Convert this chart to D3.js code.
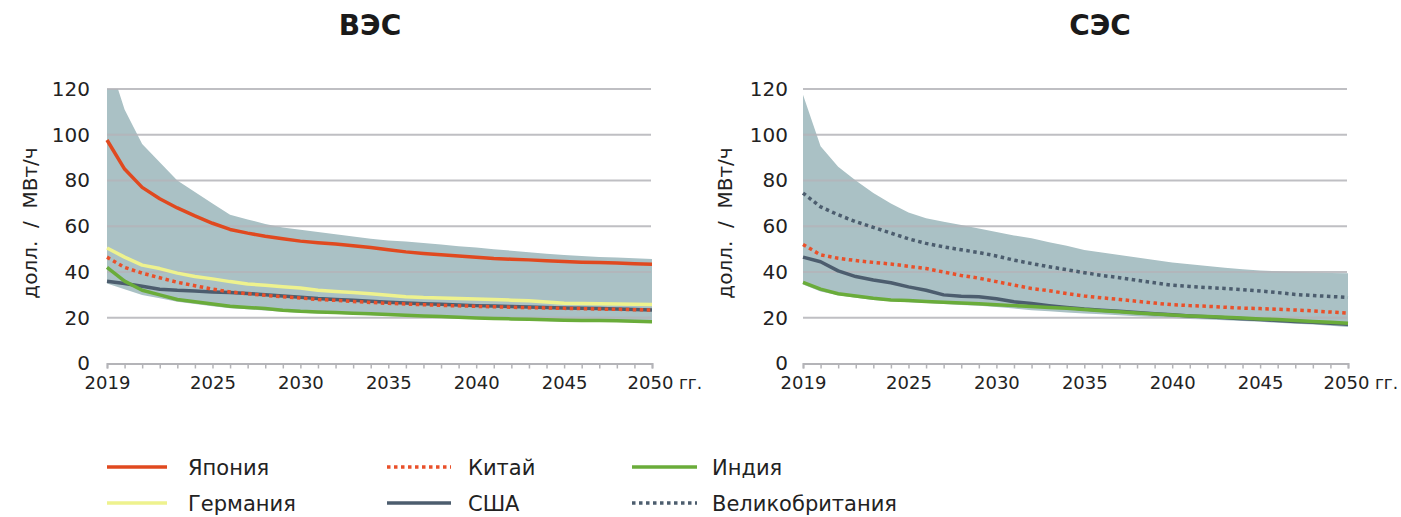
<!DOCTYPE html>
<html lang="ru">
<head>
<meta charset="utf-8">
<title>ВЭС / СЭС</title>
<script src="https://cdn.jsdelivr.net/npm/d3@7"></script>
<style>
  html, body { margin: 0; padding: 0; background: #fff; }
  svg { display: block; font-family: "DejaVu Sans", Verdana, sans-serif; }
</style>
</head>
<body>
<svg id="chart" width="1401" height="517"></svg>
<script>
// Years on the horizontal axis
const years = [2019, 2020, 2021, 2022, 2023, 2024, 2025, 2026, 2027, 2028, 2029, 2030,
  2031, 2032, 2033, 2034, 2035, 2036, 2037, 2038, 2039, 2040, 2041, 2042, 2043, 2044,
  2045, 2046, 2047, 2048, 2049, 2050];
const yearTicks = [2019, 2025, 2030, 2035, 2040, 2045, 2050];
const valueTicks = [0, 20, 40, 60, 80, 100, 120];

// ВЭС (wind), USD / MWh
const windBandHigh = [135, 111, 96, 88, 80, 75, 70, 65, 63, 61, 59.5, 58.5, 57.5, 56.5, 55.5, 54.5,
  53.8, 53.3, 52.7, 52, 51.3, 50.7, 50, 49.3, 48.6, 48, 47.4, 47, 46.6, 46.3, 46, 45.7];
const windBandLow = [35, 32.5, 30, 28.5, 27, 26, 25, 24.2, 23.7, 23.2, 22.6, 22.2, 21.9, 21.7, 21.4, 21.1,
  20.8, 20.5, 20.2, 19.9, 19.6, 19.4, 19.2, 19, 18.8, 18.6, 18.4, 18.3, 18.2, 18.1, 18, 17.9];
const windJapan = [97.7, 85, 77, 72, 68, 64.5, 61.3, 58.6, 57, 55.6, 54.5, 53.5, 52.8, 52.2, 51.5, 50.7,
  49.7, 48.8, 48.1, 47.5, 47, 46.4, 45.9, 45.6, 45.3, 44.9, 44.6, 44.3, 44.1, 43.9, 43.6, 43.4];
const windGermany = [50.5, 46.5, 43, 41.5, 39.5, 38, 37, 35.8, 34.8, 34.2, 33.6, 33, 32, 31.5, 31, 30.5,
  29.8, 29.2, 28.8, 28.6, 28.4, 28.2, 28, 27.7, 27.4, 26.9, 26.3, 26.2, 26.1, 26, 25.9, 25.8];
const windChina = [46.5, 42, 39.5, 37.5, 35.5, 34, 32.5, 31.3, 30.5, 29.8, 29.2, 28.6, 28, 27.6, 27.1, 26.7,
  26.3, 26, 25.7, 25.4, 25.2, 25, 24.8, 24.6, 24.4, 24.3, 24.1, 24, 23.8, 23.7, 23.5, 23.4];
const windUSA = [36, 35, 33.8, 32.5, 32, 31.7, 31.3, 31, 30.6, 30.1, 29.5, 29, 28.4, 28, 27.6, 27.2,
  26.8, 26.4, 26.1, 25.9, 25.6, 25.3, 25.1, 24.9, 24.7, 24.5, 24.3, 24.1, 24, 23.8, 23.6, 23.4];
const windIndia = [42, 36, 32, 30, 28, 27, 26, 25, 24.5, 24, 23.3, 22.8, 22.5, 22.3, 22, 21.7,
  21.4, 21.1, 20.8, 20.5, 20.2, 19.9, 19.7, 19.5, 19.3, 19.1, 18.9, 18.8, 18.8, 18.7, 18.5, 18.3];

// СЭС (solar), USD / MWh
const solarBandHigh = [117.5, 95, 86, 80, 74.5, 70, 66, 63.5, 62, 60.5, 59, 57.5, 56, 54.7, 53, 51.5,
  49.6, 48.5, 47.4, 46.3, 45.2, 44.1, 43.4, 42.6, 41.9, 41.2, 40.7, 40.3, 40, 39.8, 39.6, 39.5];
const solarBandLow = [34.5, 31.5, 29.8, 28.7, 27.8, 27.2, 26.8, 26.4, 26, 25.6, 25.2, 24.7, 24, 23.3, 22.8, 22.3,
  21.9, 21.5, 21.1, 20.7, 20.3, 19.9, 19.5, 19.2, 18.9, 18.6, 18.2, 17.8, 17.4, 17, 16.5, 16];
const solarUK = [74.5, 68.5, 65, 62, 59.5, 57, 54.5, 52.5, 51, 49.7, 48.5, 47, 45.2, 43.7, 42.3, 41,
  39.7, 38.5, 37.5, 36.4, 35.3, 34.2, 33.7, 33.2, 32.8, 32.3, 31.7, 31, 30.2, 29.7, 29.3, 28.9];
const solarChina = [52, 47.5, 46, 45, 44.2, 43.5, 42.5, 41.5, 40, 38.5, 37.3, 35.8, 34.3, 32.8, 31.8, 30.6,
  29.5, 28.7, 28, 27.2, 26.4, 25.7, 25.3, 25, 24.6, 24.2, 24, 23.7, 23.4, 23, 22.5, 22];
const solarUSA = [46.5, 44.5, 40.5, 38, 36.5, 35.3, 33.5, 32, 30, 29.4, 29.2, 28.3, 27, 26.2, 25.3, 24.5,
  23.8, 23.3, 22.8, 22.3, 21.8, 21.3, 20.8, 20.4, 20, 19.6, 19.2, 18.8, 18.4, 18, 17.6, 17.2];
const solarIndia = [35.5, 32.5, 30.5, 29.5, 28.5, 27.8, 27.5, 27.1, 26.8, 26.5, 26.1, 25.7, 25.3, 24.9, 24.5, 24.1,
  23.6, 23.1, 22.6, 22.1, 21.6, 21.2, 20.8, 20.5, 20.2, 19.9, 19.5, 19.2, 18.8, 18.4, 18, 17.6];

// Series styles
const styles = {
  japan:   { label: "Япония",         color: "#e0491f", dash: null },
  china:   { label: "Китай",          color: "#e9502a", dash: "3.5,3.5" },
  india:   { label: "Индия",          color: "#6aac3a", dash: null },
  germany: { label: "Германия",       color: "#eef28e", dash: null },
  usa:     { label: "США",            color: "#4c5d6e", dash: null },
  uk:      { label: "Великобритания", color: "#4c5d6e", dash: "3.5,3.5" }
};

const svg = d3.select("#chart");
const yScale = d3.scaleLinear().domain([0, 120]).range([363.5, 89]);

function drawPanel(opts) {
  const x = d3.scaleLinear().domain([2019, 2050]).range([opts.x0, opts.x1]);
  const g = svg.append("g");

  const clipId = "clip-" + opts.id;
  svg.append("clipPath").attr("id", clipId)
    .append("rect")
    .attr("x", opts.x0).attr("y", yScale(120))
    .attr("width", opts.x1 - opts.x0).attr("height", yScale(0) - yScale(120));

  // Range band
  const area = d3.area()
    .x((d, i) => x(years[i]))
    .y0((d, i) => yScale(opts.bandLow[i]))
    .y1(d => yScale(d));
  g.append("path")
    .datum(opts.bandHigh)
    .attr("clip-path", `url(#${clipId})`)
    .attr("fill", "#aac1c5")
    .attr("d", area);

  // Horizontal gridlines
  g.append("g")
    .selectAll("line")
    .data(valueTicks.filter(v => v > 0))
    .join("line")
    .attr("x1", opts.x0).attr("x2", opts.x1 - 1)
    .attr("y1", d => yScale(d)).attr("y2", d => yScale(d))
    .attr("stroke", "#b4b4b8")
    .attr("stroke-opacity", 0.85)
    .attr("stroke-width", 2);

  // X axis
  const xAxis = d3.axisBottom(x)
    .tickValues(years)
    .tickSize(5)
    .tickPadding(8)
    .tickFormat(d => yearTicks.includes(d) ? String(d) : "");
  const xa = g.append("g")
    .attr("transform", `translate(0,${yScale(0)})`)
    .call(xAxis);
  xa.select(".domain").attr("stroke", "#b4b4b8").attr("stroke-width", 2);
  xa.selectAll(".tick line").attr("stroke", "#b4b4b8").attr("stroke-width", 1.5);
  xa.selectAll(".tick text")
    .attr("fill", "#222")
    .style("font-size", "18px")
    .style("font-family", '"DejaVu Sans", Verdana, sans-serif');

  // "гг." suffix after the last year label
  const lastLabel = xa.selectAll(".tick text").filter(d => d === 2050);
  const lastWidth = lastLabel.node().getComputedTextLength();
  g.append("text")
    .attr("x", x(2050) - 2 + lastWidth / 2 + 6)
    .attr("y", yScale(0) + 5 + 8)
    .attr("dy", "0.71em")
    .attr("fill", "#222")
    .style("font-size", "17px")
    .text("гг.");
  lastLabel.attr("x", -2);

  // Y axis labels (no axis line)
  const ya = g.append("g")
    .attr("transform", `translate(${opts.x0},0)`)
    .call(d3.axisLeft(yScale).tickValues(valueTicks).tickSize(0).tickPadding(opts.yLabelPad));
  ya.select(".domain").remove();
  ya.selectAll(".tick text")
    .attr("fill", "#222")
    .style("font-size", "20px")
    .style("font-family", '"DejaVu Sans", Verdana, sans-serif');

  // Y axis title
  g.append("text")
    .attr("transform", `translate(${opts.titleX},${223}) rotate(-90)`)
    .attr("text-anchor", "middle")
    .attr("dy", "0.35em")
    .attr("fill", "#222")
    .style("font-size", "20px")
    .attr("xml:space", "preserve")
    .style("white-space", "pre")
    .text("долл.  /  МВт/ч");

  // Series lines
  const line = d3.line()
    .x((d, i) => x(years[i]))
    .y(d => yScale(d));
  opts.series.forEach(s => {
    const st = styles[s.key];
    g.append("path")
      .datum(s.values)
      .attr("fill", "none")
      .attr("stroke", st.color)
      .attr("stroke-width", 3.5)
      .attr("stroke-dasharray", st.dash)
      .attr("stroke-linejoin", "round")
      .attr("d", line);
  });

  // Panel title
  svg.append("text")
    .attr("x", opts.titleCenter)
    .attr("y", 35)
    .attr("text-anchor", "middle")
    .attr("fill", "#1a1a1a")
    .style("font-size", "28px")
    .style("font-weight", "bold")
    .text(opts.title);
}

drawPanel({
  id: "wind", title: "ВЭС", titleCenter: 370,
  x0: 107, x1: 652, yLabelPad: 17, titleX: 30,
  bandHigh: windBandHigh, bandLow: windBandLow,
  series: [
    { key: "usa", values: windUSA },
    { key: "india", values: windIndia },
    { key: "germany", values: windGermany },
    { key: "japan", values: windJapan },
    { key: "china", values: windChina }
  ]
});

drawPanel({
  id: "solar", title: "СЭС", titleCenter: 1100,
  x0: 803, x1: 1348, yLabelPad: 15, titleX: 725,
  bandHigh: solarBandHigh, bandLow: solarBandLow,
  series: [
    { key: "usa", values: solarUSA },
    { key: "india", values: solarIndia },
    { key: "china", values: solarChina },
    { key: "uk", values: solarUK }
  ]
});

// Legend
const legendItems = [
  { key: "japan",   col: 0, row: 0 },
  { key: "china",   col: 1, row: 0 },
  { key: "india",   col: 2, row: 0 },
  { key: "germany", col: 0, row: 1 },
  { key: "usa",     col: 1, row: 1 },
  { key: "uk",      col: 2, row: 1 }
];
const legendCols = [{ x1: 107, x2: 167, tx: 188 }, { x1: 387, x2: 451, tx: 468 }, { x1: 632, x2: 697, tx: 712 }];
const legendRows = [467, 503];
const legend = svg.append("g");
legendItems.forEach(it => {
  const st = styles[it.key];
  const c = legendCols[it.col];
  const y = legendRows[it.row];
  legend.append("line")
    .attr("x1", c.x1).attr("x2", c.x2)
    .attr("y1", y).attr("y2", y)
    .attr("stroke", st.color)
    .attr("stroke-width", 3.5)
    .attr("stroke-dasharray", st.dash);
  legend.append("text")
    .attr("x", c.tx).attr("y", y)
    .attr("dy", "0.36em")
    .attr("fill", "#222")
    .style("font-size", "21px")
    .text(st.label);
});
</script>
</body>
</html>
